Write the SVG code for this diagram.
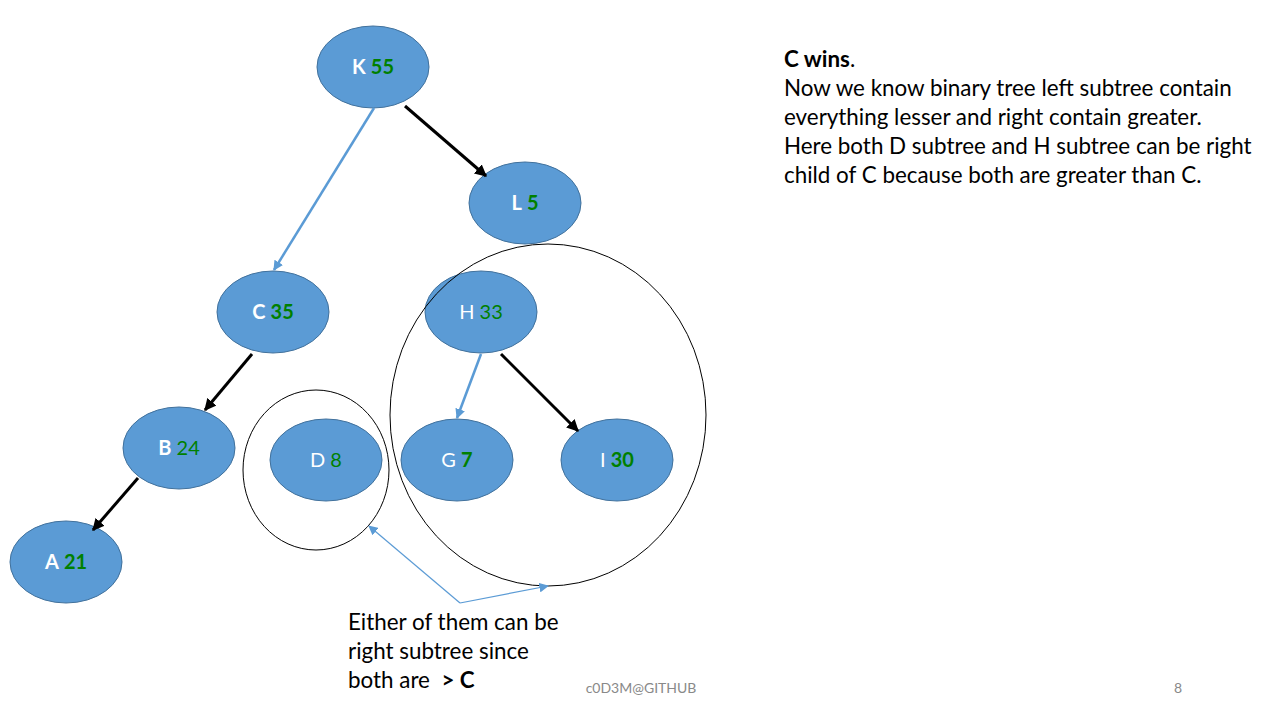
<svg xmlns="http://www.w3.org/2000/svg" width="1280" height="720" viewBox="0 0 1280 720">
<style>
.n{fill:#5b9bd5;stroke:#41719c;stroke-width:1}
.t{font-family:Lato,"Open Sans",sans-serif;font-size:20px;text-anchor:middle}
.w{fill:#fff}
.g{fill:#008000}
.b{font-weight:bold}
.ring{fill:none;stroke:#000;stroke-width:1}
.cb{stroke:#5b9bd5;stroke-width:2.5;fill:none}
.ck{stroke:#000;stroke-width:3;fill:none}
.ca{stroke:#5b9bd5;stroke-width:1.2;fill:none}
.txt{font-family:Lato,"Open Sans",sans-serif;font-size:22.4px;fill:#000;white-space:pre}
.ft{font-family:Lato,"Open Sans",sans-serif;font-size:14px;fill:#898989;text-anchor:middle}
</style>
<defs>
<marker id="ab" viewBox="0 0 10 10" refX="9" refY="5" markerWidth="4" markerHeight="4" orient="auto" markerUnits="strokeWidth"><path d="M0,0L10,5L0,10z" fill="#5b9bd5"/></marker>
<marker id="ak" viewBox="0 0 10 10" refX="9" refY="5" markerWidth="4" markerHeight="4" orient="auto" markerUnits="strokeWidth"><path d="M0,0L10,5L0,10z" fill="#000"/></marker>
<marker id="aa" viewBox="0 0 10 10" refX="9" refY="5" markerWidth="8" markerHeight="8" orient="auto" markerUnits="strokeWidth"><path d="M0,0L10,5L0,10z" fill="#5b9bd5"/></marker>
</defs>
<rect width="1280" height="720" fill="#fff"/>
<g id="K"><ellipse class="n" cx="373" cy="67" rx="56" ry="41"/><text class="t" x="373" y="74"><tspan class="w b">K</tspan> <tspan class="g b">55</tspan></text></g>
<g id="L"><ellipse class="n" cx="525" cy="203" rx="56" ry="41"/><text class="t" x="525" y="210"><tspan class="w b">L</tspan> <tspan class="g b">5</tspan></text></g>
<g id="C"><ellipse class="n" cx="273" cy="312" rx="56" ry="41"/><text class="t" x="273" y="319"><tspan class="w b">C</tspan> <tspan class="g b">35</tspan></text></g>
<g id="H"><ellipse class="n" cx="481" cy="312" rx="56" ry="41"/><text class="t" x="481" y="319"><tspan class="w">H</tspan> <tspan class="g">33</tspan></text></g>
<g id="B"><ellipse class="n" cx="179" cy="448" rx="56" ry="41"/><text class="t" x="179" y="455"><tspan class="w b">B</tspan> <tspan class="g">24</tspan></text></g>
<g id="D"><ellipse class="n" cx="326" cy="460" rx="56" ry="41"/><text class="t" x="326" y="467"><tspan class="w">D</tspan> <tspan class="g">8</tspan></text></g>
<g id="G"><ellipse class="n" cx="457" cy="460" rx="56" ry="41"/><text class="t" x="457" y="467"><tspan class="w">G</tspan> <tspan class="g b">7</tspan></text></g>
<g id="I"><ellipse class="n" cx="617" cy="460" rx="56" ry="41"/><text class="t" x="617" y="467"><tspan class="w">I</tspan> <tspan class="g b">30</tspan></text></g>
<g id="A"><ellipse class="n" cx="66" cy="562" rx="56" ry="41"/><text class="t" x="66" y="569"><tspan class="w b">A</tspan> <tspan class="g b">21</tspan></text></g>
<g id="groups">
<ellipse class="ring" cx="548" cy="415" rx="158" ry="171"/>
<ellipse class="ring" cx="316" cy="470" rx="73" ry="80"/>
</g>
<g id="connectors">
<line class="cb" x1="374" y1="108" x2="274" y2="270" marker-end="url(#ab)"/>
<line class="ck" x1="405" y1="106" x2="486" y2="176" marker-end="url(#ak)"/>
<line class="ck" x1="252" y1="354" x2="205" y2="410" marker-end="url(#ak)"/>
<line class="ck" x1="138" y1="478" x2="93" y2="530" marker-end="url(#ak)"/>
<line class="cb" x1="481" y1="354" x2="457" y2="418" marker-end="url(#ab)"/>
<line class="ck" x1="501" y1="354" x2="578" y2="431" marker-end="url(#ak)"/>
<line class="ca" x1="460" y1="603" x2="369" y2="526" marker-end="url(#aa)"/>
<line class="ca" x1="460" y1="603" x2="548" y2="586" marker-end="url(#aa)"/>
</g>
<g id="notes">
<text class="txt" x="784" y="67"><tspan font-weight="bold">C wins</tspan>.</text>
<text class="txt" x="784" y="96">Now we know binary tree left subtree contain</text>
<text class="txt" x="784" y="125">everything lesser and right contain greater.</text>
<text class="txt" x="784" y="154">Here both D subtree and H subtree can be right</text>
<text class="txt" x="784" y="183">child of C because both are greater than C.</text>
<text class="txt" x="348" y="630">Either of them can be</text>
<text class="txt" x="348" y="659">right subtree since</text>
<text class="txt" x="348" y="688">both are  <tspan font-weight="bold">&gt; C</tspan></text>
<text class="ft" x="641" y="693">c0D3M@GITHUB</text>
<text class="ft" x="1178" y="693">8</text>
</g>
</svg>
